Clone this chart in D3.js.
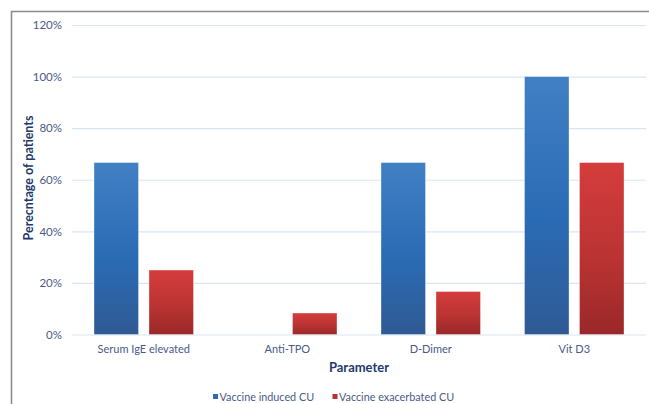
<!DOCTYPE html>
<html>
<head>
<meta charset="utf-8">
<script src="https://cdn.jsdelivr.net/npm/d3@7"></script>
<style>
  html, body { margin: 0; padding: 0; background: #fff; }
  svg { display: block; }
  text { font-family: Lato, "Open Sans", sans-serif; }
</style>
</head>
<body>
<svg id="chart" width="649" height="404"></svg>
<script>
// Laboratory parameters per patient group (percentage of patients)
const categories = ["Serum IgE elevated", "Anti-TPO", "D-Dimer", "Vit D3"];
const seriesNames = ["Vaccine induced CU", "Vaccine exacerbated CU"];
const inducedValues = [66.67, 0, 66.67, 100];
const exacerbatedValues = [25, 8.33, 16.67, 66.67];
const yTicks = [0, 20, 40, 60, 80, 100, 120];

const seriesValues = [inducedValues, exacerbatedValues];
const rows = categories.map((c, i) => ({
  category: c,
  values: seriesNames.map((s, j) => ({ series: s, value: seriesValues[j][i] }))
}));

const svg = d3.select("#chart");
const W = 649, H = 404;
const plot = { left: 72, right: 646, top: 25, bottom: 334.5 };

// outer frame (top and left edges visible)
svg.append("path")
  .attr("d", `M11.5,${H} V11.5 H${W}`)
  .attr("fill", "none")
  .attr("stroke", "#8c8c8c")
  .attr("stroke-width", 1.6);

const x0 = d3.scaleBand().domain(categories).range([plot.left, plot.right]).padding(0);
const x1 = d3.scaleBand().domain(seriesNames).range([0, x0.bandwidth()])
  .paddingInner(0.19).paddingOuter(0.4);
const y = d3.scaleLinear().domain([0, 120]).range([plot.bottom, plot.top]);

const defs = svg.append("defs");
const gradients = [
  { id: "gBlue", stops: [["0%", "#4280c4"], ["55%", "#2a6bb5"], ["100%", "#2f5a94"]] },
  { id: "gRed", stops: [["0%", "#d43d3c"], ["55%", "#bb3333"], ["100%", "#9a2828"]] }
];
gradients.forEach(g => {
  const lg = defs.append("linearGradient").attr("id", g.id)
    .attr("x1", 0).attr("y1", 0).attr("x2", 0).attr("y2", 1);
  g.stops.forEach(s => lg.append("stop").attr("offset", s[0]).attr("stop-color", s[1]));
});
const fillFor = d3.scaleOrdinal().domain(seriesNames).range(["url(#gBlue)", "url(#gRed)"]);
const swatch = d3.scaleOrdinal().domain(seriesNames).range(["#2e6db5", "#b83232"]);

// horizontal gridlines
const yAxis = d3.axisLeft(y).tickValues(yTicks).tickFormat(d => d + "%")
  .tickSize(-(plot.right - plot.left)).tickPadding(10);
const gy = svg.append("g").attr("transform", `translate(${plot.left},0)`).call(yAxis);
gy.select(".domain").remove();
gy.selectAll(".tick line").attr("stroke", "#dbe6f3").attr("stroke-width", 1.2);
gy.selectAll(".tick text").attr("fill", "#4a5a86").attr("font-size", 11.5);

// bars
const groups = svg.append("g").selectAll("g").data(rows).join("g")
  .attr("transform", d => `translate(${x0(d.category)},0)`);
groups.selectAll("rect").data(d => d.values.filter(v => v.value > 0)).join("rect")
  .attr("x", d => x1(d.series))
  .attr("width", x1.bandwidth())
  .attr("y", d => y(d.value))
  .attr("height", d => y(0) - y(d.value))
  .attr("fill", d => fillFor(d.series))
  .attr("stroke", "rgba(255,255,255,0.45)")
  .attr("stroke-width", 0.8);

// category axis labels
const xAxis = d3.axisBottom(x0).tickSize(0).tickPadding(11);
const gx = svg.append("g").attr("transform", `translate(0,${plot.bottom})`).call(xAxis);
gx.select(".domain").remove();
gx.selectAll(".tick text").attr("fill", "#4a5a86").attr("font-size", 11);

// axis titles
svg.append("text")
  .attr("x", (plot.left + plot.right) / 2).attr("y", 372)
  .attr("text-anchor", "middle").attr("font-weight", "bold")
  .attr("font-size", 13).attr("fill", "#213a6b")
  .text("Parameter");
svg.append("text")
  .attr("transform", `translate(32.5,178) rotate(-90)`)
  .attr("text-anchor", "middle").attr("font-weight", "bold")
  .attr("font-size", 12.5).attr("fill", "#213a6b")
  .text("Perecntage of patients");

// legend
const legendX = [213, 332.5];
const legend = svg.append("g").selectAll("g").data(seriesNames).join("g")
  .attr("transform", (d, i) => `translate(${legendX[i]},396.5)`);
legend.append("rect").attr("x", 0).attr("y", -2.5).attr("width", 5).attr("height", 5)
  .attr("fill", d => swatch(d));
legend.append("text").attr("x", 6.5).attr("y", 4)
  .attr("font-size", 10.8).attr("fill", "#4a5a86")
  .text(d => d);
</script>
</body>
</html>
